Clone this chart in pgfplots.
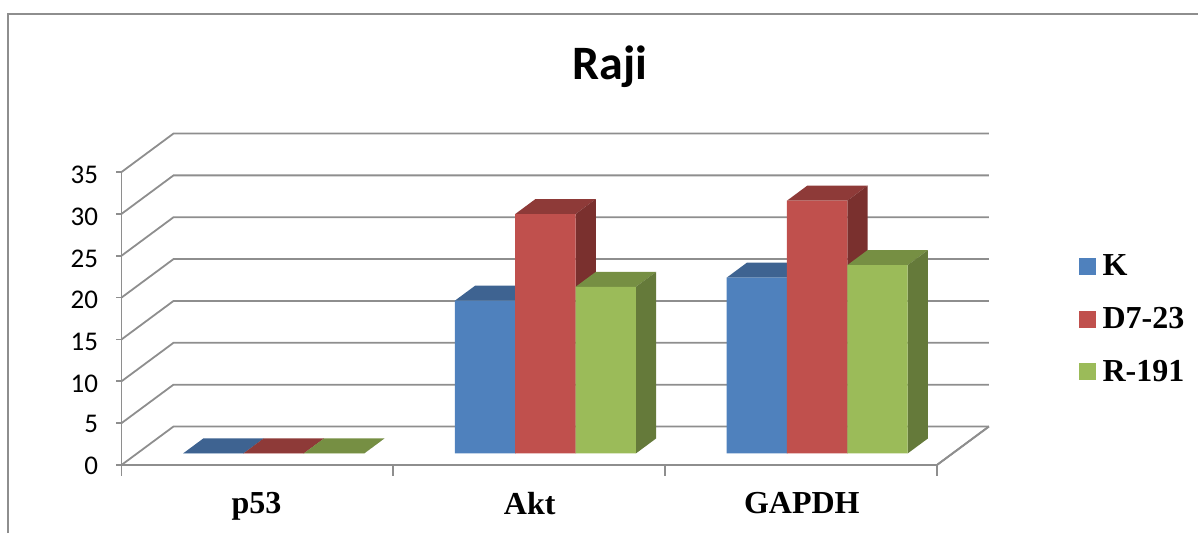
\documentclass[border=0pt]{standalone}
\usepackage{fontspec}
\setmainfont{Carlito}
\newfontfamily\tnr{Liberation Serif}
\usepackage{pgfplots}
\pgfplotsset{compat=1.18}
\definecolor{gridc}{HTML}{8E8E8E}
\definecolor{kF}{HTML}{4F81BD}\definecolor{kT}{HTML}{3E6391}\definecolor{kS}{HTML}{355680}
\definecolor{dF}{HTML}{C0504D}\definecolor{dT}{HTML}{8E3A38}\definecolor{dS}{HTML}{7A302E}
\definecolor{rF}{HTML}{9BBB59}\definecolor{rT}{HTML}{768F43}\definecolor{rS}{HTML}{657A3A}
% #1 left x, #2 right x, #3 value, #4 colour prefix
\newcommand{\threedbar}[4]{%
  \addplot3[draw=none,fill=#4T,forget plot] coordinates {(#1,0.30,#3) (#2,0.30,#3) (#2,0.69,#3) (#1,0.69,#3) (#1,0.30,#3)};
  \addplot3[draw=none,fill=#4S,forget plot] coordinates {(#2,0.30,0) (#2,0.69,0) (#2,0.69,#3) (#2,0.30,#3) (#2,0.30,0)};
  \addplot3[draw=none,fill=#4F,forget plot] coordinates {(#1,0.30,0) (#2,0.30,0) (#2,0.30,#3) (#1,0.30,#3) (#1,0.30,0)};
}
\begin{document}
\begin{tikzpicture}[x=1pt,y=1pt]
\path[use as bounding box] (0,0) rectangle (1198,533);
\draw[gridc,line width=1.8pt] (8,0) -- (8,519) -- (1198,519);
\begin{axis}[
  at={(121.5pt,68pt)}, anchor=origin,
  x={(271.8pt,0pt)}, y={(52pt,38.5pt)}, z={(0pt,8.37pt)},
  xmin=0,xmax=3,ymin=0,ymax=1,zmin=0,zmax=35,
  clip=false,
  axis lines=left,
  axis line style={-,gridc,line width=1.8pt},
  major tick length=0pt,
  ytick=\empty,
  xtick={0.5,1.5,2.5},
  xticklabels={p53,Akt,GAPDH},
  ztick={0,5,...,35},
  /pgf/number format/assume math mode=true,
  every x tick label/.append style={font=\tnr\bfseries\fontsize{32}{36}\selectfont, yshift=-24pt, xshift=8pt},
  every z tick label/.append style={font=\fontsize{27}{30}\selectfont, xshift=-20pt, yshift=3pt},
  title={\bfseries Raji},
  title style={at={(axis cs:1.796,0,46.9)},anchor=center,font=\fontsize{48}{54}\selectfont\bfseries},
  legend style={at={(axis cs:3.5125,0,25.6)},anchor=north west,draw=none,fill=none,
    font=\tnr\bfseries\fontsize{32}{36}\selectfont,row sep=26pt,
    /tikz/every even column/.style={column sep=0pt}},
  legend cell align=left,
  legend image code/.code={\fill[#1] (0pt,-8pt) rectangle (16pt,8pt);\path[draw=none,fill=none] (0pt,0pt) -- (21pt,0pt);},
]
\pgfplotsinvokeforeach{0,5,...,35}{
  \addplot3[gridc,line width=1.8pt,forget plot] coordinates {(0,0,#1) (0,1,#1) (3,1,#1)};
  \addplot3[gridc,line width=1.8pt,forget plot] coordinates {(0,0,#1) (-0.022,0,#1)};
}
\pgfplotsinvokeforeach{0,1,2,3}{
  \addplot3[gridc,line width=1.8pt,forget plot] coordinates {(#1,0,0) (#1,0,-1.3)};
}
\addplot3[gridc,line width=1.8pt,forget plot] coordinates {(3,0,0) (3,1,0)};
% p53
\threedbar{0.169}{0.391}{0}{k}
\threedbar{0.391}{0.613}{0}{d}
\threedbar{0.613}{0.835}{0}{r}
% Akt
\threedbar{1.169}{1.391}{18.25}{k}
\threedbar{1.391}{1.613}{28.6}{d}
\threedbar{1.613}{1.835}{19.9}{r}
% GAPDH
\threedbar{2.169}{2.391}{21}{k}
\threedbar{2.391}{2.613}{30.2}{d}
\threedbar{2.613}{2.835}{22.5}{r}
\addlegendimage{kF}\addlegendentry{K}
\addlegendimage{dF}\addlegendentry{D7-23}
\addlegendimage{rF}\addlegendentry{R-191}
\end{axis}
\end{tikzpicture}
\end{document}
